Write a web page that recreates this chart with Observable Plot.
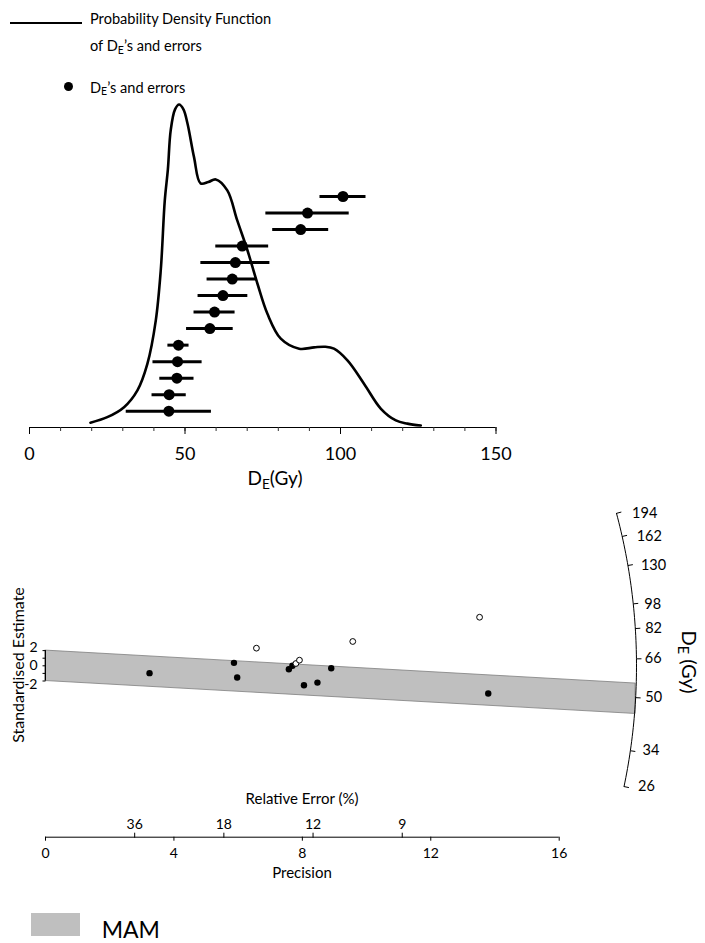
<!DOCTYPE html>
<html><head><meta charset="utf-8">
<script src="https://cdn.jsdelivr.net/npm/d3@7"></script>
<script src="https://cdn.jsdelivr.net/npm/@observablehq/plot@0.6"></script>
<style>
body{margin:0;background:#fff;font-family:Lato, sans-serif;}
#wrap{position:relative;width:705px;height:943px;overflow:hidden;background:#fff;}
#wrap svg{position:absolute;left:0;top:0;}
.t{position:absolute;white-space:nowrap;color:#000;line-height:1;font-family:Lato, sans-serif;}
.sub{font-size:0.72em;position:relative;top:0.28em;}
</style></head><body><div id="wrap"></div>
<script>
// ---------- Top panel data ----------
const kdeDose    = [19.6, 25.0, 30.4, 34.7, 37.9, 40.6, 42.2, 43.5, 44.5, 45.4, 46.8, 48.1, 49.5, 50.8, 52.9, 55.0, 57.5, 59.9, 63.6, 66.8, 70.1, 73.3, 76.5, 80.8, 86.7, 91.5, 95.0, 97.9, 102.3, 107.6, 113.0, 117.8, 121.5, 125.8];
const kdeDensity = [0.015, 0.032, 0.063, 0.115, 0.197, 0.331, 0.486, 0.703, 0.80, 0.92, 0.985, 1.0, 0.985, 0.941, 0.837, 0.756, 0.76, 0.768, 0.734, 0.641, 0.548, 0.445, 0.352, 0.275, 0.244, 0.248, 0.250, 0.244, 0.207, 0.135, 0.058, 0.022, 0.012, 0.006];
const grainRank  = [1, 2, 3, 4, 5, 6, 7, 8, 9, 10, 11, 12, 13, 14];
const deValues   = [44.8, 44.9, 47.4, 47.6, 47.9, 58.0, 59.5, 62.2, 65.2, 66.2, 68.4, 87.2, 89.4, 100.8];
const deErrors   = [13.7, 5.5, 5.5, 7.9, 3.4, 7.5, 6.6, 8.0, 8.1, 11.1, 8.5, 9.0, 13.4, 7.4];
const doseMajorTicks = [0, 50, 100, 150];
const doseMinorTicks = [0, 10, 20, 30, 40, 50, 60, 70, 80, 90, 100, 110, 120, 130, 140, 150];

// ---------- Radial plot data ----------
const precision   = [3.24, 5.87, 5.97, 7.58, 7.69, 8.05, 8.47, 8.90, 13.79, 6.57, 7.80, 7.91, 9.57, 13.52];
const stdEstimate = [-0.97, 0.39, -1.54, -0.45, 0.0, -2.56, -2.21, -0.32, -3.64, 2.32, 0.30, 0.74, 3.20, 6.39];
const inMAM       = [true, true, true, true, true, true, true, true, true, false, false, false, false, false];
const centralDose = 62.8;
const mamDose = 49.6;
const arcTickLabels = [26, 34, 50, 66, 82, 98, 130, 162, 194];
const precisionTicks = [0, 4, 8, 12, 16];
const relErrorTicks = [36, 18, 12, 9];
const zTicks = [-2, -1, 0, 1, 2];
const zTickLabels = [2, 0, -2];

// ---------- build ----------
const wrap = document.getElementById("wrap");
const baseStyle = {background: "transparent", fontFamily: "Lato, sans-serif", color: "#000", overflow: "visible"};
function add(el){ wrap.appendChild(el); }

const kde = kdeDose.map((d, i) => ({dose: d, density: kdeDensity[i]}));
const grains = grainRank.map((r, i) => ({rank: r, de: deValues[i], lo: deValues[i] - deErrors[i], hi: deValues[i] + deErrors[i]}));

// Plot 1: density curve + dose axis
add(Plot.plot({
  width: 705, height: 943, marginLeft: 29, marginRight: 209.5, marginTop: 104, marginBottom: 516,
  x: {domain: [0, 150], label: null}, y: {domain: [0, 1], axis: null},
  style: {...baseStyle, fontSize: "17px"},
  marks: [
    Plot.ruleY([0], {stroke: "#000", strokeWidth: 1}),
    Plot.axisX({ticks: doseMinorTicks, tickSize: 4, tickFormat: () => "", label: null, stroke: "#333"}),
    Plot.axisX({ticks: doseMajorTicks, tickSize: 7, tickPadding: 13, fontSize: 18, label: null, stroke: "#000"}),
    Plot.line(kde, {x: "dose", y: "density", curve: "catmull-rom", stroke: "#000", strokeWidth: 2.6})
  ]
}));

// Plot 2: De's and errors
add(Plot.plot({
  width: 705, height: 943, marginLeft: 29, marginRight: 209.5, marginTop: 196, marginBottom: 532.3,
  x: {domain: [0, 150], axis: null}, y: {domain: [1, 14], axis: null},
  style: baseStyle,
  marks: [
    Plot.ruleY(grains, {y: "rank", x1: "lo", x2: "hi", stroke: "#000", strokeWidth: 3}),
    Plot.dot(grains, {x: "de", y: "rank", r: 5.5, fill: "#000"})
  ]
}));

// Radial plot geometry (pixel ratios of the chosen scales)
const PX = (558.7 - 45) / 16;    // px per precision unit
const ZY = (680.5 - 650.1) / 4;  // px per standardised unit
const R = 591;                   // arc radius in px
function angleOf(D){ return Math.atan2(ZY * Math.log(D / centralDose), PX); }
function polar(theta, rpx){ return {p: rpx * Math.cos(theta) / PX, z: rpx * Math.sin(theta) / ZY}; }
const tMin = angleOf(arcTickLabels[0]), tMax = angleOf(arcTickLabels[arcTickLabels.length - 1]);
const arc = d3.range(0, 61).map(i => polar(tMin + (tMax - tMin) * i / 60, R));
const arcTicks = arcTickLabels.map(D => {
  const t = angleOf(D), a = polar(t, R), b = polar(t, R + 5);
  const off = 8 + 0.05 * Math.abs(a.z * ZY);   // label gap grows toward the arc ends
  return {label: String(D), x1: a.p, y1: a.z, x2: b.p, y2: b.z, lp: a.p + off / PX, lz: a.z};
});
const m = Math.log(mamDose / centralDose);
const pEnd = polar(Math.atan2(ZY * m, PX), R).p;
const band = [0, pEnd].map(p => ({p, lo: m * p - 2, hi: m * p + 2}));
const radial = precision.map((p, i) => ({p, z: stdEstimate[i], inMAM: inMAM[i]}));

// Plot 3: radial plot
add(Plot.plot({
  width: 705, height: 943, marginLeft: 45, marginRight: 146.3, marginTop: 650.1, marginBottom: 262.5,
  x: {domain: [0, 16], axis: null}, y: {domain: [-2, 2], axis: null},
  style: {...baseStyle, fontSize: "14px"},
  marks: [
    Plot.areaY(band, {x: "p", y1: "lo", y2: "hi", fill: "#bfbfbf", stroke: "#7f7f7f", strokeWidth: 0.8}),
    Plot.ruleX([0], {y1: -2, y2: 2, stroke: "#000", strokeWidth: 1}),
    Plot.link(zTicks, {x1: -3 / PX, x2: 0, y1: d => d, y2: d => d, stroke: "#000", strokeWidth: 1}),
    Plot.text(zTickLabels.filter(d => d > 0), {x: 0, y: d => d, text: d => String(d), dx: -8, dy: -3, textAnchor: "end", fontSize: 14, fill: "#000"}),
    Plot.text(zTickLabels.filter(d => d === 0), {x: 0, y: d => d, text: d => String(d), dx: -8, textAnchor: "end", fontSize: 14, fill: "#000"}),
    Plot.text(zTickLabels.filter(d => d < 0), {x: 0, y: d => d, text: d => String(d), dx: -8, dy: 3.5, textAnchor: "end", fontSize: 14, fill: "#000"}),
    Plot.line(arc, {x: "p", y: "z", stroke: "#000", strokeWidth: 1}),
    Plot.link(arcTicks, {x1: "x1", y1: "y1", x2: "x2", y2: "y2", stroke: "#000", strokeWidth: 1}),
    Plot.text(arcTicks, {x: "lp", y: "lz", text: "label", textAnchor: "start", fontSize: 14.5, fill: "#000"}),
    Plot.dot(radial.filter(d => d.inMAM), {x: "p", y: "z", r: 3.2, fill: "#000"}),
    Plot.dot(radial.filter(d => !d.inMAM), {x: "p", y: "z", r: 2.9, fill: "#fff", stroke: "#000", strokeWidth: 1})
  ]
}));

// Plot 4: precision axis
add(Plot.plot({
  width: 705, height: 943, marginLeft: 45, marginRight: 146.3, marginTop: 820, marginBottom: 106.3,
  x: {domain: [0, 16], label: null}, y: {domain: [0, 1], axis: null},
  style: {...baseStyle, fontSize: "14px"},
  marks: [
    Plot.ruleY([0], {stroke: "#000", strokeWidth: 1}),
    Plot.axisX({ticks: precisionTicks, tickSize: 4, tickPadding: 7, fontSize: 14, label: null})
  ]
}));

// Plot 5: relative error axis
add(Plot.plot({
  width: 705, height: 943, marginLeft: 45, marginRight: 146.3, marginTop: 836.7, marginBottom: 90,
  x: {domain: [0, 16], label: null}, y: {domain: [0, 1], axis: null},
  style: {...baseStyle, fontSize: "14px"},
  marks: [
    Plot.axisX({anchor: "top", ticks: relErrorTicks.map(r => 100 / r), tickFormat: d => String(Math.round(100 / d)), tickSize: 5, tickPadding: 3, fontSize: 14, label: null})
  ]
}));

// ---------- text & legend overlays ----------
function label(html, x, y, opts = {}){
  const d = document.createElement("div");
  d.className = "t";
  d.innerHTML = html;
  d.style.fontSize = (opts.size || 13) + "px";
  d.style.left = x + "px";
  d.style.top = y + "px";
  const ax = opts.anchor === "start" ? "0" : "-50%";
  d.style.transform = `translate(${ax},-50%)`;
  if (opts.rotate) { d.style.transformOrigin = "0 0"; d.style.transform = `rotate(${opts.rotate}deg) translate(-50%,-50%)`; }
  wrap.appendChild(d);
}
function box(x, y, w, h, bg, radius){
  const d = document.createElement("div");
  d.style.cssText = `position:absolute;left:${x}px;top:${y}px;width:${w}px;height:${h}px;background:${bg};` + (radius ? `border-radius:${radius}px;` : "");
  wrap.appendChild(d);
}
const DE = 'D<span class="sub">E</span>';
box(10, 22.3, 72, 2.2, "#000");
label("Probability Density Function", 90, 18.5, {anchor: "start", size: 14.6});
label(`of ${DE}’s and errors`, 90, 46, {anchor: "start", size: 14.6});
box(63.8, 82, 9, 9, "#000", 5);
label(`${DE}’s and errors`, 90, 87.5, {anchor: "start", size: 14.6});
label(`${DE}(Gy)`, 275, 477, {size: 19});
label("Relative Error (%)", 302, 798, {size: 15});
label("Precision", 302, 872, {size: 15});
label("Standardised Estimate", 18, 665, {size: 16, rotate: -90});
label(`${DE} (Gy)`, 690, 662, {size: 20, rotate: 90});
box(31, 913.3, 49, 22.4, "#bfbfbf");
label("MAM", 101.7, 929, {anchor: "start", size: 23});
</script></body></html>
